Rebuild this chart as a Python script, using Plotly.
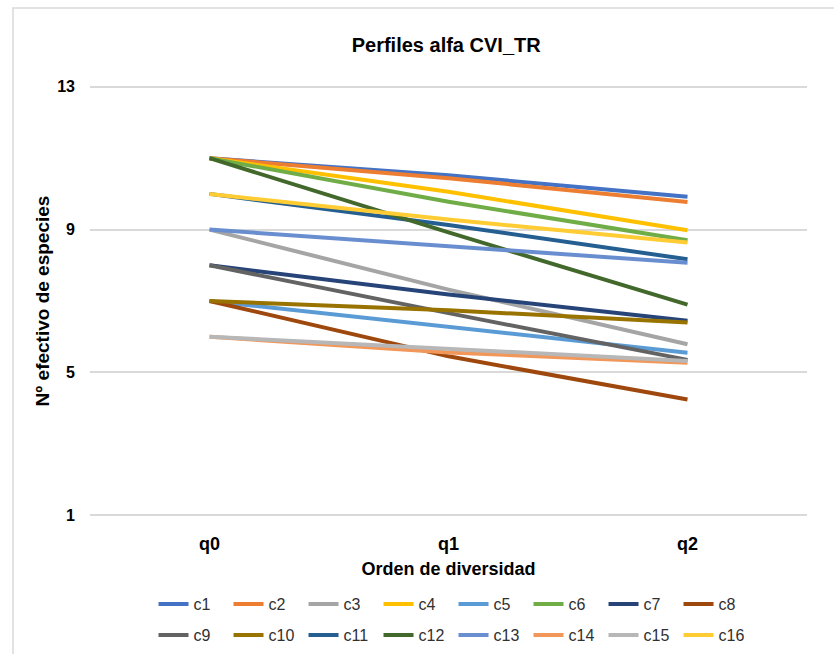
import plotly.graph_objects as go

# Diversity orders (x categories)
orders = ["q0", "q1", "q2"]

# Effective number of species per community at each order
c1 = [11.0, 10.52, 9.92]
c2 = [11.0, 10.44, 9.77]
c3 = [9.0, 7.32, 5.79]
c4 = [11.0, 10.06, 8.98]
c5 = [7.0, 6.27, 5.55]
c6 = [11.0, 9.78, 8.70]
c7 = [8.0, 7.18, 6.45]
c8 = [7.0, 5.45, 4.24]
c9 = [8.0, 6.66, 5.35]
c10 = [7.0, 6.74, 6.40]
c11 = [10.0, 9.13, 8.17]
c12 = [11.0, 8.92, 6.90]
c13 = [9.0, 8.54, 8.07]
c14 = [6.0, 5.56, 5.27]
c15 = [6.0, 5.67, 5.32]
c16 = [10.0, 9.28, 8.64]

names = ["c1", "c2", "c3", "c4", "c5", "c6", "c7", "c8",
         "c9", "c10", "c11", "c12", "c13", "c14", "c15", "c16"]
series = [c1, c2, c3, c4, c5, c6, c7, c8, c9, c10, c11, c12, c13, c14, c15, c16]
colors = ["#4472C4", "#ED7D31", "#A5A5A5", "#FFC000", "#5B9BD5", "#70AD47",
          "#264478", "#9E480E", "#636363", "#997300", "#255E91", "#43682B",
          "#698ED0", "#F1975A", "#B7B7B7", "#FFCD33"]

yticks = [1, 5, 9, 13]

FONT = "Liberation Sans, Arial, sans-serif"

fig = go.Figure()
for i, (name, vals, col) in enumerate(zip(names, series, colors)):
    fig.add_trace(go.Scatter(
        x=orders, y=vals, name=name, mode="lines",
        line=dict(color=col, width=4),
        legend="legend" if i < 8 else "legend2",
    ))

# two legend rows of eight entries each, placed in container coordinates
legend_common = dict(
    orientation="h", xanchor="center", x=0.507, yanchor="middle",
    yref="container",
    font=dict(family=FONT, size=16, color="#303030"),
    bgcolor="rgba(0,0,0,0)", itemwidth=30,
    entrywidth=30, tracegroupgap=0,
)

fig.update_layout(
    width=834, height=654,
    margin=dict(l=90, r=27, t=85, b=137),
    paper_bgcolor="white", plot_bgcolor="white",
    font=dict(family=FONT, color="#000000"),
    title=dict(text="<b>Perfiles alfa CVI_TR</b>", x=0.535, xanchor="center",
               y=1 - 45 / 654, yanchor="middle", yref="container",
               font=dict(family=FONT, size=20, color="#000000")),
    xaxis=dict(
        type="category", categoryorder="array", categoryarray=orders,
        range=[-0.5, 2.5], showgrid=False, zeroline=False, showline=False,
        ticks="", tickfont=dict(family=FONT, size=18, color="#000000"),
        ticktext=[f"<b>{o}</b>" for o in orders], tickvals=orders,
        ticklabelstandoff=14,
        title=dict(text="<b>Orden de diversidad</b>", standoff=9,
                   font=dict(family=FONT, size=18, color="#000000")),
    ),
    yaxis=dict(
        range=[0.95, 13.05], tickvals=yticks,
        ticktext=[f"<b>{v}</b>" for v in yticks],
        showgrid=True, gridcolor="#d9d9d9", gridwidth=1.5, zeroline=False,
        showline=False, ticks="", ticklabelstandoff=14,
        tickfont=dict(family=FONT, size=16, color="#000000"),
        title=dict(text="<b>Nº efectivo de especies</b>", standoff=2,
                   font=dict(family=FONT, size=19, color="#000000")),
    ),
    legend=dict(y=1 - 604 / 654, **legend_common),
    legend2=dict(y=1 - 635 / 654, **legend_common),
    shapes=[dict(type="rect", xref="paper", yref="paper",
                 x0=(13 - 90) / 717, x1=1.2, y0=-0.5, y1=(517 - 8) / 432,
                 line=dict(color="#d9d9d9", width=1.5), layer="below")],
)

fig.write_html("out.html")
